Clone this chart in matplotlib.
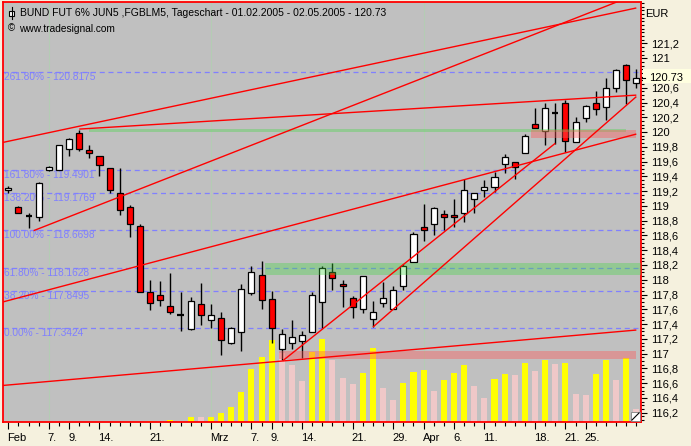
import numpy as np
import matplotlib
matplotlib.use("Agg")
import matplotlib.pyplot as plt
from matplotlib.ticker import FixedLocator, FuncFormatter, MultipleLocator
from matplotlib.patches import Rectangle
import matplotlib.transforms as mtrans

# ---------------- data ----------------
opens = [119.21, 118.99, 118.87, 118.85, 119.48, 119.48, 119.77, 119.99, 119.76, 119.67,
         119.52, 119.18, 118.99, 118.73, 117.83, 117.79, 117.64, 117.52, 117.33, 117.67,
         117.45, 117.48, 117.14, 117.29, 117.82, 118.07, 117.74, 117.06, 117.14, 117.17,
         117.29, 117.70, 118.10, 117.94, 117.75, 117.60, 117.47, 117.69, 117.60, 117.91,
         118.24, 118.71, 118.75, 118.89, 118.88, 118.90, 119.09, 119.22, 119.26, 119.57,
         119.60, 119.71, 120.11, 120.01, 120.26, 120.40, 119.86, 120.19, 120.40, 120.34,
         120.59, 120.91, 120.66]
highs = [119.27, 119.00, 118.90, 119.32, 119.54, 119.82, 119.92, 120.03, 119.82, 119.67,
         119.52, 119.52, 119.01, 118.75, 118.00, 117.98, 118.09, 117.84, 117.77, 117.96,
         117.67, 117.57, 117.36, 117.94, 118.19, 118.25, 117.85, 117.33, 117.45, 117.31,
         117.84, 118.19, 118.23, 118.00, 117.78, 118.05, 117.71, 117.97, 117.91, 118.21,
         118.65, 119.03, 118.99, 118.95, 119.10, 119.37, 119.17, 119.35, 119.46, 119.70,
         119.60, 119.98, 120.32, 120.39, 120.39, 120.43, 120.20, 120.37, 120.55, 120.73,
         120.85, 120.92, 120.86]
lows = [119.18, 118.90, 118.70, 118.80, 119.47, 119.48, 119.67, 119.75, 119.65, 119.41,
        119.17, 118.88, 118.58, 117.83, 117.59, 117.64, 117.53, 117.30, 117.32, 117.39,
        117.35, 116.98, 117.13, 117.03, 117.79, 117.60, 117.14, 116.91, 117.06, 116.94,
        117.29, 117.34, 117.86, 117.63, 117.48, 117.55, 117.36, 117.63, 117.60, 117.86,
        118.24, 118.52, 118.60, 118.67, 118.72, 118.78, 118.91, 119.12, 119.19, 119.45,
        119.36, 119.71, 120.06, 119.82, 119.84, 119.73, 119.86, 120.13, 120.23, 120.16,
        120.54, 120.38, 120.59]
closes = [119.24, 118.91, 118.87, 119.31, 119.53, 119.82, 119.90, 119.77, 119.71, 119.55,
          119.21, 118.95, 118.75, 117.83, 117.68, 117.73, 117.57, 117.52, 117.71, 117.52,
          117.52, 117.18, 117.34, 117.87, 118.10, 117.72, 117.35, 117.26, 117.23, 117.25,
          117.79, 118.16, 118.02, 117.92, 117.63, 118.05, 117.56, 117.75, 117.86, 118.18,
          118.62, 118.67, 118.97, 118.85, 118.85, 119.22, 119.17, 119.25, 119.39, 119.66,
          119.53, 119.95, 120.06, 120.32, 120.26, 119.88, 120.13, 120.35, 120.31, 120.59,
          120.84, 120.70, 120.73]
# volume in thousand contracts
volumes = [0, 0, 0, 0, 0, 0, 0, 0, 0, 0, 0, 0, 0, 0, 12, 6, 18, 12, 58, 55,
           59, 108, 180, 360, 630, 780, 978, 822, 678, 486, 840, 990, 738, 528, 456, 582,
           888, 408, 258, 462, 600, 618, 366, 498, 582, 678, 426, 282, 510, 570, 558,
           702, 606, 738, 690, 702, 330, 318, 570, 738, 498, 762, 150]

xtick_pos = [0, 4, 6, 9, 14, 20, 24, 26, 29, 34, 38, 41, 44, 47, 52, 55, 57]
xtick_labels = ["Feb", "7.", "9.", "14.", "21.", "Mrz", "7.", "9.", "14.", "21.", "29.",
                "Apr", "6.", "11.", "18.", "21.", "25."]
ytick_vals = [116.2, 116.4, 116.6, 116.8, 117.0, 117.2, 117.4, 117.6, 117.8, 118.0, 118.2,
              118.4, 118.6, 118.8, 119.0, 119.2, 119.4, 119.6, 119.8, 120.0, 120.2, 120.4,
              120.6, 120.8, 121.0, 121.2]

fib_pct = ["261.80%", "161.80%", "138.20%", "100.00%", "61.80%", "38.20%", "0.00%"]
fib_levels = [120.8175, 119.4901, 119.1769, 118.6698, 118.1628, 117.8495, 117.3424]

# trend lines: (x0, y0, x1, y1) in bar index / price
trend_lines = [
    (-0.52, 119.86, 62.0, 121.68),
    (7.0, 120.04, 62.0, 120.50),
    (2.5, 118.665, 66.0, 122.08),
    (-0.52, 117.70, 62.0, 119.973),
    (-0.52, 116.569, 62.0, 117.319),
    (27.1, 116.904, 54.0, 119.848),
    (36.0, 117.36, 62.0, 120.48),
]
# zones: (x0, x1, price_lo, price_hi, color)
zones = [
    (25.3, 62.5, 118.07, 118.23, "green"),
    (8.0, 61.0, 119.995, 120.04, "green"),
    (51.6, 62.0, 119.92, 120.03, "red"),
    (26.7, 62.0, 116.93, 117.035, "red"),
]

last_price = 120.73

# ---------------- figure ----------------
W, H = 691, 446
fig = plt.figure(figsize=(W / 100, H / 100), dpi=100)
fig.patch.set_facecolor("#F5F1DE")
plt.rcParams["font.family"] = ["Liberation Sans", "DejaVu Sans"]

left, right, top, bottom = 3, 641, 2, 421.7
rect = [left / W, 1 - bottom / H, (right - left) / W, (bottom - top) / H]

xlim = (-0.523, 62.46)
ylim = (116.078, 121.761)

ax_v = fig.add_axes(rect)
ax_v.set_facecolor("#C0C0C0")
vcols = []
for i, v in enumerate(volumes):
    if i == 0 or v >= volumes[i - 1]:
        vcols.append("#FFFF00")
    else:
        vcols.append("#EFC8C8")
ax_v.bar(np.arange(len(volumes)), volumes, width=0.6, color=vcols, linewidth=0)
ax_v.set_xlim(xlim)
ax_v.set_ylim(0, 5036)
ax_v.set_xticks([]); ax_v.set_yticks([])
for s in ax_v.spines.values():
    s.set_visible(False)

# faint grid on background
for gx in [0, 4, 20, 41]:
    ax_v.axvline(gx, color="#B4CCB4", lw=0.8, zorder=0.5)

ax = fig.add_axes(rect)
ax.patch.set_alpha(0)
ax.set_xlim(xlim)
ax.set_ylim(ylim)

# fib lines
btr = mtrans.blended_transform_factory(ax.transAxes, ax.transData)
for pct, lev in zip(fib_pct, fib_levels):
    ax.axhline(lev, color="#8080FF", lw=0.9, dashes=(4, 3), zorder=2)
    ax.text(0.0015, lev, f"{pct} - {lev:.4f}", transform=btr,
            color="#8080FF", fontsize=7.3, va="top", ha="left", zorder=2)

# candles
x = np.arange(len(opens))
o = np.array(opens); c = np.array(closes); h = np.array(highs); l = np.array(lows)
ax.vlines(x, l, h, color="black", lw=1.0, zorder=3)
up = c > o
dn = c < o
dj = c == o
bw = 0.6
ax.bar(x[up], (c - o)[up], bottom=o[up], width=bw, color="white", edgecolor="black", lw=0.9, zorder=4)
ax.bar(x[dn], (c - o)[dn], bottom=o[dn], width=bw, color="#FF0000", edgecolor="black", lw=0.9, zorder=4)
ax.hlines(o[dj], x[dj] - bw / 2, x[dj] + bw / 2, color="black", lw=1.6, zorder=4)

# zones
for x0, x1, lo, hi, col in zones:
    fc = (0.25, 0.85, 0.25, 0.35) if col == "green" else (1.0, 0.35, 0.35, 0.4)
    ax.add_patch(Rectangle((x0, lo), x1 - x0, hi - lo, facecolor=fc, edgecolor="none", zorder=5))

# trend lines
for x0, y0, x1, y1 in trend_lines:
    ax.plot([x0, x1], [y0, y1], color="#FF0000", lw=1.0, zorder=6, solid_capstyle="butt")

# axes styling
for s in ax.spines.values():
    s.set_color("#FF0000")
    s.set_linewidth(1.3)
ax.yaxis.tick_right()
ax.yaxis.set_major_locator(FixedLocator(ytick_vals))
ax.yaxis.set_minor_locator(MultipleLocator(0.05))


def yfmt(v, pos):
    # the label closest to the last-price tag is covered by that tag
    if abs(v - last_price) < 0.1:
        return ""
    s = f"{v:.1f}"
    if s.endswith(".0"):
        s = s[:-2]
    return s.replace(".", ",")


ax.yaxis.set_major_formatter(FuncFormatter(yfmt))
ax.tick_params(axis="y", which="major", length=4, width=0.8, pad=3, labelsize=8)
ax.tick_params(axis="y", which="minor", length=2, width=0.8)
ax.xaxis.set_major_locator(FixedLocator(xtick_pos))
ax.xaxis.set_minor_locator(FixedLocator(list(range(len(opens)))))
ax.set_xticklabels(xtick_labels)
for t in ax.get_xticklabels():
    t.set_horizontalalignment("left")
ax.tick_params(axis="x", which="major", length=5, width=0.8, pad=3, labelsize=8)
ax.tick_params(axis="x", which="minor", length=3, width=0.8)
for t in ax.get_xticklabels():
    t.set_transform(t.get_transform() + mtrans.ScaledTranslation(-1 / 100, 0, fig.dpi_scale_trans))

# last price tag
fig.canvas.draw()
ypix = ax.transData.transform((0, last_price))[1]
fig.add_artist(Rectangle((643 / W, (ypix - 5) / H), 48 / W, 14 / H, facecolor="#FFFFE0", edgecolor="none",
                         transform=fig.transFigure, zorder=10))
fig.add_artist(plt.Line2D([642 / W, 645 / W], [ypix / H, ypix / H], color="black", lw=0.8, zorder=11))
fig.text(649 / W, ypix / H, f"{last_price:.2f}", fontsize=8, va="center", ha="left", zorder=12)

# header texts
fig.text(645 / W, 1 - 14 / H, "EUR", fontsize=8, va="center", ha="left")
fig.text(20 / W, 1 - 13 / H, "BUND FUT 6% JUN5 ,FGBLM5, Tageschart - 01.02.2005 - 02.05.2005 - 120.73",
         fontsize=7.5, va="center", ha="left")
fig.text(19 / W, 1 - 29.5 / H, "www.tradesignal.com", fontsize=7.3, va="center", ha="left")
fig.text(8 / W, 1 - 28.5 / H, "©", fontsize=7, va="center", ha="left")
# small candle icon
fig.add_artist(plt.Line2D([11.5 / W, 11.5 / W], [1 - 7 / H, 1 - 19 / H], color="black", lw=0.8))
fig.add_artist(Rectangle((9 / W, 1 - 16 / H), 5 / W, 5 / H, facecolor="white", edgecolor="black", lw=0.8,
                         transform=fig.transFigure))
# resize icon
fig.add_artist(Rectangle((631 / W, 1 - 421 / H), 9 / W, 9 / H, facecolor="white", edgecolor="#808080", lw=0.6,
                         transform=fig.transFigure, zorder=20))
fig.add_artist(plt.Line2D([632 / W, 639 / W], [1 - 420 / H, 1 - 413 / H], color="black", lw=0.8, zorder=21))

fig.savefig("out.png", dpi=100, facecolor=fig.get_facecolor())
